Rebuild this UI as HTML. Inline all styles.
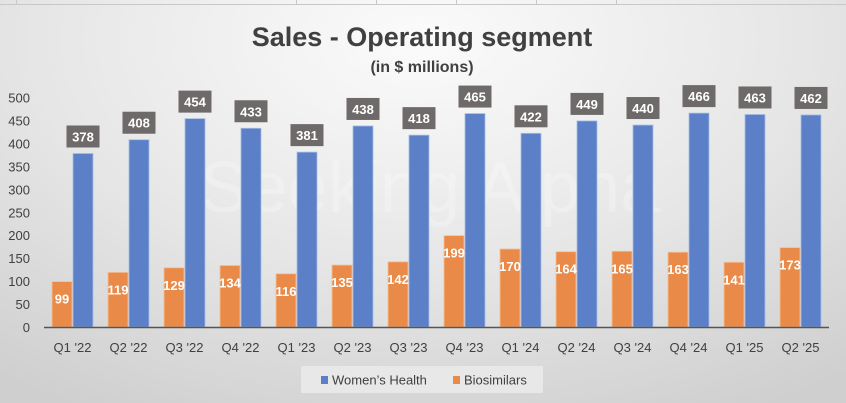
<!DOCTYPE html>
<html><head><meta charset="utf-8"><style>
html,body{margin:0;padding:0;width:846px;height:403px;overflow:hidden}
body{background:radial-gradient(ellipse 700px 420px at 420px 40px,#fbfbfb 0%,#e6e6e6 55%,#cfcfcf 100%);font-family:"Liberation Sans",sans-serif}
</style></head><body>
<svg id="chart" width="846" height="403" xmlns="http://www.w3.org/2000/svg">
<g stroke="#c8c8c8" stroke-width="1">
<line x1="0" y1="4.5" x2="846" y2="4.5"/><line x1="16.5" y1="0" x2="16.5" y2="4"/><line x1="296.5" y1="0" x2="296.5" y2="4"/><line x1="376.5" y1="0" x2="376.5" y2="4"/><line x1="456.5" y1="0" x2="456.5" y2="4"/><line x1="536.5" y1="0" x2="536.5" y2="4"/><line x1="616.5" y1="0" x2="616.5" y2="4"/>
</g>
<text x="422" y="46" text-anchor="middle" font-size="27" font-weight="bold" fill="#404040">Sales - Operating segment</text>
<text x="422" y="72" text-anchor="middle" font-size="16" font-weight="bold" fill="#404040">(in $ millions)</text>
<text x="430" y="212" text-anchor="middle" font-size="72" fill="#ffffff" opacity="0.25">Seeking Alpha</text>
<g id="yaxis"></g>
<g id="bars"></g>
<g id="xaxis"></g>
<g>
<rect x="301" y="366" width="242" height="27" fill="#e8e8e8"/>
<rect x="321" y="376" width="7" height="8" fill="#5b80c8"/>
<text x="332" y="384.5" font-size="13" fill="#404040">Women’s Health</text>
<rect x="453" y="376" width="7" height="8" fill="#ea8a48"/>
<text x="464" y="384.5" font-size="13" fill="#404040">Biosimilars</text>
</g>
</svg>
<script>
const categories=["Q1 '22","Q2 '22","Q3 '22","Q4 '22","Q1 '23","Q2 '23","Q3 '23","Q4 '23","Q1 '24","Q2 '24","Q3 '24","Q4 '24","Q1 '25","Q2 '25"];
const womensHealth=[378,408,454,433,381,438,418,465,422,449,440,466,463,462];
const biosimilars=[99,119,129,134,116,135,142,199,170,164,165,163,141,173];
const yTicks=[0,50,100,150,200,250,300,350,400,450,500];
const NS="http://www.w3.org/2000/svg";
const y0=327,yTop=97.5,yMax=500;
function y(v){return y0-(v/yMax)*(y0-yTop);}
function xc(i){return 72.5+i*56;}
function mk(tag,attrs,parent){const e=document.createElementNS(NS,tag);for(const k in attrs)e.setAttribute(k,attrs[k]);parent.appendChild(e);return e;}
const ya=document.getElementById('yaxis'),bg=document.getElementById('bars'),xa=document.getElementById('xaxis');
yTicks.forEach(t=>{const tx=mk('text',{x:30,y:y(t)+5,'text-anchor':'end','font-size':13,fill:'#404040'},ya);tx.textContent=t;

});
categories.forEach((c,i)=>{
 const cx=xc(i);
 const o=mk('rect',{x:cx-20.5,y:y(biosimilars[i]),width:20,height:y0-y(biosimilars[i]),fill:'#ea8a48',stroke:'#f3c09c','stroke-width':0.8},bg);
 
 
 const b=mk('rect',{x:cx+0.5,y:y(womensHealth[i]),width:20,height:y0-y(womensHealth[i]),fill:'#5b80c8',stroke:'#a9bde4','stroke-width':0.8},bg);
 
 
 const ot=mk('text',{x:cx-10.5,y:y(biosimilars[i])+22,'text-anchor':'middle','font-size':13,'font-weight':'bold',fill:'#fff'},bg);
 ot.textContent=biosimilars[i];
 
 
 const bx=mk('rect',{x:cx+10.5-16.5,y:y(womensHealth[i])-28,width:33,height:22,fill:'#6e6a69'},bg);
 
 
 const bt=mk('text',{x:cx+10.5,y:y(womensHealth[i])-12,'text-anchor':'middle','font-size':13,'font-weight':'bold',fill:'#fff'},bg);
 bt.textContent=womensHealth[i];
 
 
 const xl=mk('text',{x:cx,y:352,'text-anchor':'middle','font-size':13,fill:'#404040'},xa);
 xl.textContent=c;
 
 
});
const ax=mk('line',{x1:44,y1:y0+0.5,x2:829,y2:y0+0.5,stroke:'#555','stroke-width':1.5},xa);


</script>
</body></html>
